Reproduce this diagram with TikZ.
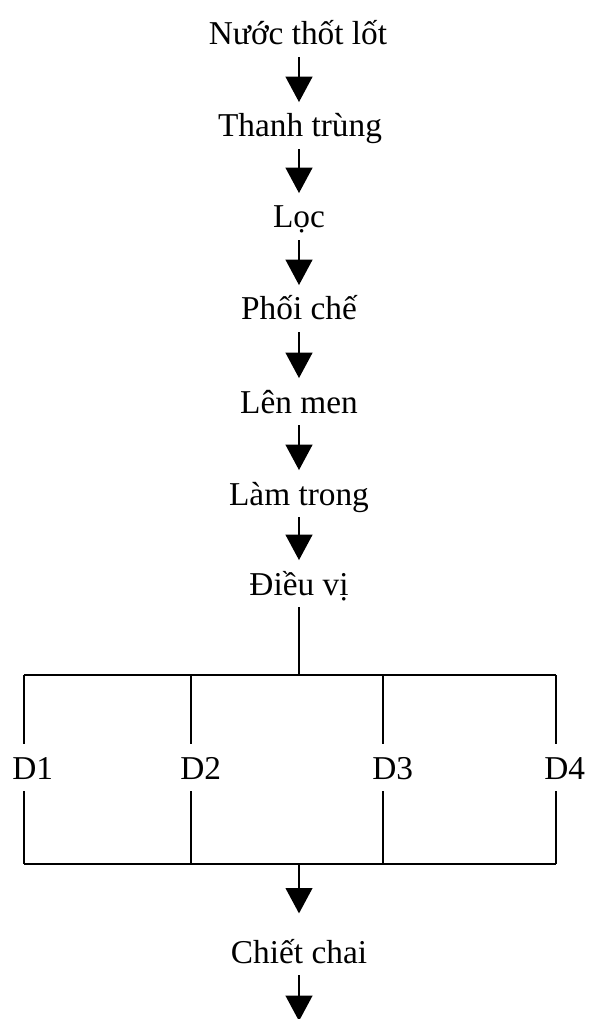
\documentclass[tikz,border=0pt]{standalone}
\usepackage{fontspec}
\setmainfont{Liberation Serif}
\usetikzlibrary{arrows.meta}

\tikzset{
  stepnode/.style={inner sep=0pt, anchor=base, text height=26pt, text depth=9pt,
    font=\fontsize{25}{29}\selectfont},
  dnode/.style={stepnode, anchor=base west},
  flow/.style={line width=1.5pt, -{Triangle[width=20pt,length=19pt]}},
  bar/.style={line width=1.5pt}
}

\begin{document}
\begin{tikzpicture}[x=0.75pt,y=-0.75pt]
\useasboundingbox (0,0) rectangle (589,1019);

% Draw the steps
\node[stepnode] (nuoc) at (298,45) {Nước thốt lốt};
\node[stepnode] (thanh) at (300,137) {Thanh trùng};
\node[stepnode] (loc) at (299,228) {Lọc};
\node[stepnode] (phoi) at (299,320) {Phối chế};
\node[stepnode] (len) at (299,413) {Lên men};
\node[stepnode] (lam) at (299,505) {Làm trong};
\node[stepnode] (dieu) at (299,595) {Điều vị};
\node[stepnode] (chiet) at (299,963) {Chiết chai};

% Draw the arrows between the steps
\draw[flow] (nuoc.south -| 299,0) -- (thanh.north -| 299,0);
\draw[flow] (thanh.south -| 299,0) -- (loc.north);
\draw[flow] (loc.south) -- (phoi.north);
\draw[flow] (phoi.south) -- (len.north);
\draw[flow] (len.south) -- (lam.north);
\draw[flow] (lam.south) -- (dieu.north);

% Draw the branch points
\coordinate (top) at (299,675);
\coordinate (t1) at (24,675);
\coordinate (t2) at (191,675);
\coordinate (t3) at (383,675);
\coordinate (t4) at (556,675);
\coordinate (bot) at (299,864);
\coordinate (b1) at (24,864);
\coordinate (b2) at (191,864);
\coordinate (b3) at (383,864);
\coordinate (b4) at (556,864);
\coordinate (last) at (299,1021);

% Draw the samples
\node[dnode] (d1) at (12,779) {D1};
\node[dnode] (d2) at (180,779) {D2};
\node[dnode] (d3) at (372,779) {D3};
\node[dnode] (d4) at (544,779) {D4};

% Draw the frame
\draw[bar] (dieu.south) -- (top);
\draw[bar] (t1) -- (t4);
\draw[bar] (b1) -- (b4);
\draw[bar] (t1) -- (t1 |- d1.north);
\draw[bar] (t2) -- (t2 |- d2.north);
\draw[bar] (t3) -- (t3 |- d3.north);
\draw[bar] (t4) -- (t4 |- d4.north);
\draw[bar] (b1 |- d1.south) -- (b1);
\draw[bar] (b2 |- d2.south) -- (b2);
\draw[bar] (b3 |- d3.south) -- (b3);
\draw[bar] (b4 |- d4.south) -- (b4);

% Draw the last arrows
\draw[flow, shorten >=11pt] (bot) -- (chiet.north);
\draw[flow] (chiet.south) -- (last);

\end{tikzpicture}
\end{document}
